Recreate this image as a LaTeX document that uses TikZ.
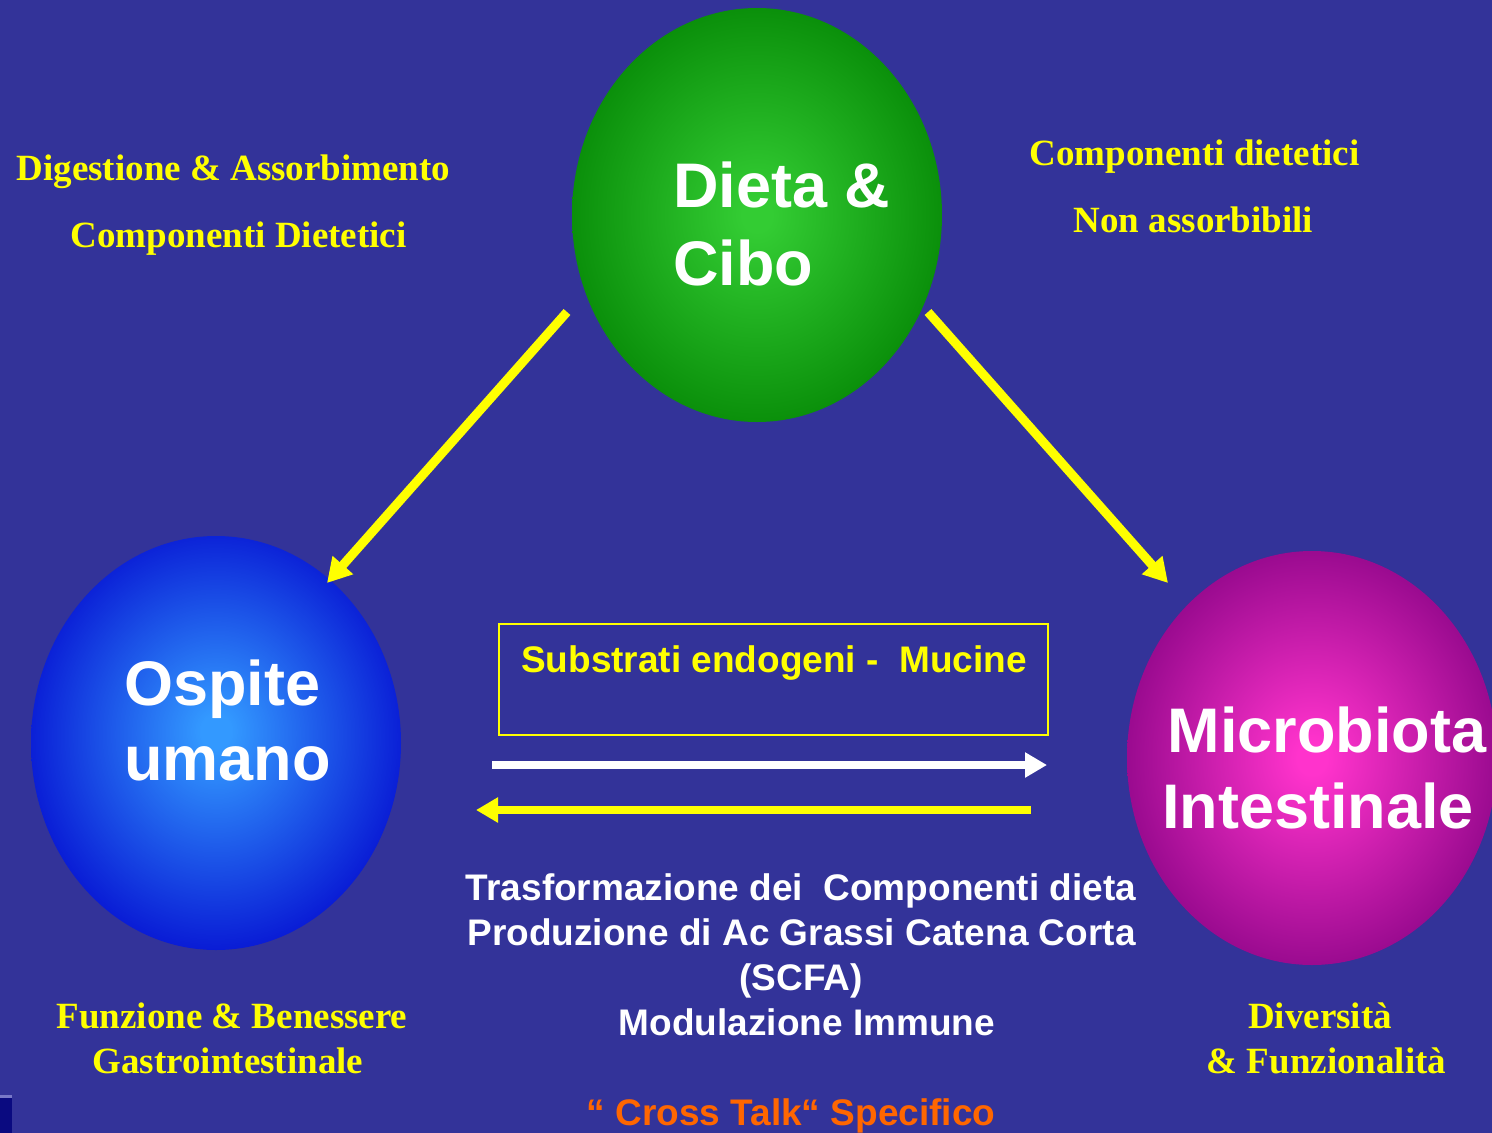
\documentclass[tikz,border=0pt]{standalone}
\usepackage{fontspec}
\setmainfont{Liberation Serif}
\newfontfamily\sansf{Liberation Sans}
\usetikzlibrary{shapes.geometric,arrows.meta}
\definecolor{bgblue}{HTML}{333399}
\definecolor{ylw}{HTML}{FFFF00}
\definecolor{orng}{HTML}{FF6600}
\definecolor{gLight}{HTML}{33CC33}
\definecolor{gDark}{HTML}{008000}
\definecolor{bLight}{HTML}{3399FF}
\definecolor{bDark}{HTML}{0000CC}
\definecolor{pLight}{HTML}{FF33CC}
\definecolor{pDark}{HTML}{800080}
\pgfdeclareradialshading{greenball}{\pgfpoint{0bp}{0bp}}{color(0bp)=(gLight); color(2bp)=(gLight); color(31bp)=(gDark); color(50bp)=(gDark)}
\pgfdeclareradialshading{blueball}{\pgfpoint{0bp}{1.5bp}}{color(0bp)=(bLight); color(2bp)=(bLight); color(31bp)=(bDark); color(50bp)=(bDark)}
\pgfdeclareradialshading{purpleball}{\pgfpoint{0bp}{0bp}}{color(0bp)=(pLight); color(2bp)=(pLight); color(31bp)=(pDark); color(50bp)=(pDark)}
\begin{document}
\begin{tikzpicture}[x=1pt,y=-1pt,
  ball/.style={ellipse, minimum width=370pt, minimum height=414pt, inner sep=0pt},
  balltxt/.style={text=white, font=\sansf\bfseries\fontsize{63}{63}\selectfont, inner sep=0pt},
  serifl/.style={text=ylw, font=\bfseries\fontsize{37}{37}\selectfont, inner sep=0pt, anchor=base},
  sansl/.style={text=white, font=\sansf\bfseries\fontsize{37}{37}\selectfont, inner sep=0pt, anchor=base},
  diag/.style={draw=ylw, line width=9pt, -{Triangle[length=24pt,width=26pt]}},
  horiz/.style={line width=8.5pt, -{Triangle[length=22pt,width=24pt]}}
]
\fill[bgblue] (0,0) rectangle (1492,1133);
\useasboundingbox (0,0) rectangle (1492,1133);
% corner element
\fill[fill={rgb,255:red,10;green,10;blue,128}] (0,1095) rectangle (12,1133);
\fill[fill={rgb,255:red,120;green,120;blue,200}] (0,1095) rectangle (12,1098);

% balls
\node[ball, shading=greenball] (dieta) at (757,215) {};
\node[ball, shading=blueball] (ospite) at (216,743) {};
\node[ball, shading=purpleball] (micro) at (1312,758) {};

% ball labels
\node[balltxt, anchor=base west] (dietaA) at (673,207) {Dieta \&};
\node[balltxt, anchor=base west] (dietaB) at (673,285) {Cibo};
\node[balltxt, anchor=base west] (ospA) at (124,705) {Ospite};
\node[balltxt, anchor=base west] (ospB) at (124,780) {umano};
\node[balltxt, anchor=base] (micA) at (1327,752) {Microbiota};
\node[balltxt, anchor=base] (micB) at (1318,828) {Intestinale};

% yellow serif labels
\node[serifl] (dig) at (233.5,180) {Digestione \& Assorbimento};
\node[serifl] (cdA) at (238.5,247) {Componenti Dietetici};
\node[serifl] (cdB) at (1194.5,165) {Componenti dietetici};
\node[serifl] (nonass) at (1193.5,232) {Non assorbibili};
\node[serifl] (funz) at (232,1028) {Funzione \& Benessere};
\node[serifl] (gastro) at (228,1073) {Gastrointestinale};
\node[serifl] (div) at (1320,1028) {Diversità};
\node[serifl] (funzion) at (1326.5,1073) {\& Funzionalità};

% box
\node[draw=ylw, line width=1.3pt, minimum width=549pt, minimum height=111pt, inner sep=0pt] (box) at (773.5,679.5) {};
\node[sansl, text=ylw] (subs) at (774,672) {Substrati endogeni -\ \ Mucine};

% arrows
\coordinate (d1s) at (567,312);
\coordinate (d1e) at (327,583);
\coordinate (d2s) at (928,312);
\coordinate (d2e) at (1168,583);
\draw[diag] (d1s) -- (d1e);
\draw[diag] (d2s) -- (d2e);
\coordinate (wS) at (492,765);
\coordinate (wE) at (1047,765);
\coordinate (yS) at (1031,810);
\coordinate (yE) at (476,810);
\draw[horiz, draw=white] (wS) -- (wE);
\draw[horiz, draw=ylw] (yS) -- (yE);

% bottom text
\node[sansl] (t1) at (801,900) {Trasformazione dei\ \ Componenti dieta};
\node[sansl] (t2) at (801.5,945) {Produzione di Ac Grassi Catena Corta};
\node[sansl] (t3) at (801,990) {(SCFA)};
\node[sansl] (t4) at (807,1035) {Modulazione Immune};
\node[sansl, text=orng] (cross) at (791,1125) {“ Cross Talk“ Specifico};
\end{tikzpicture}
\end{document}
